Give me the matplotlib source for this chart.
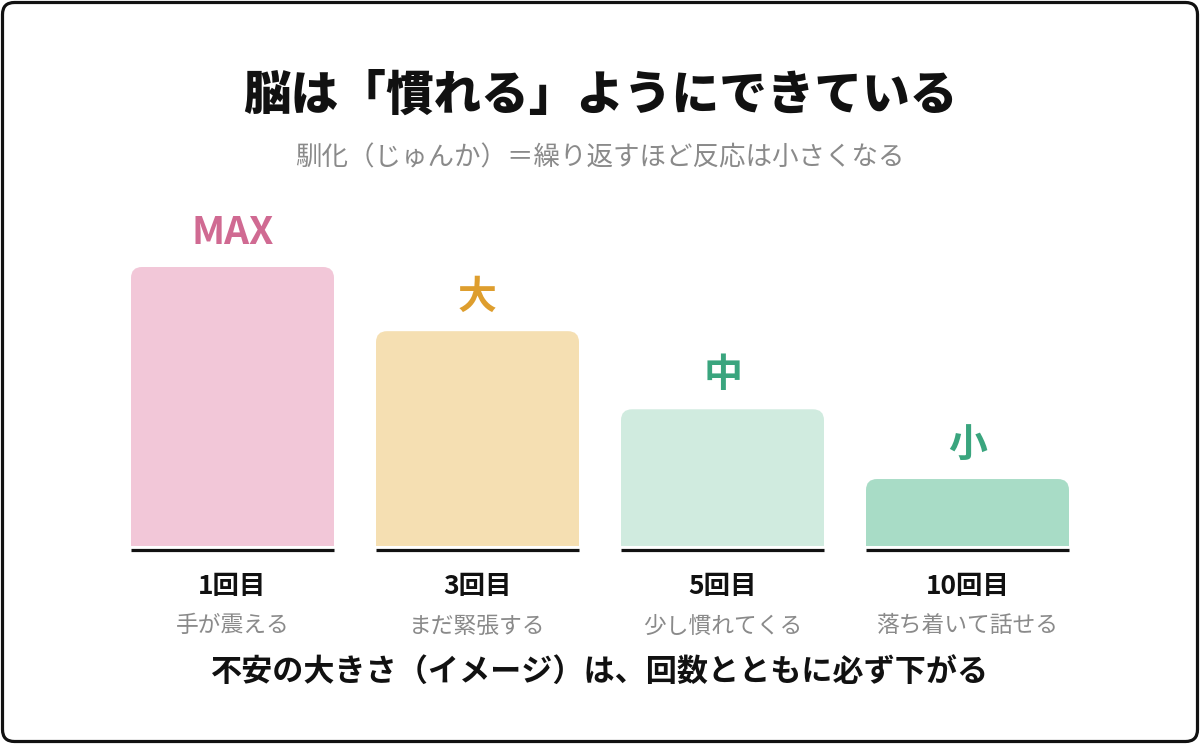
import matplotlib
matplotlib.use("Agg")
import matplotlib.pyplot as plt
from matplotlib.path import Path
from matplotlib.patches import PathPatch, FancyBboxPatch
from matplotlib.transforms import offset_copy

plt.rcParams['font.family'] = ['Noto Sans CJK JP', 'DejaVu Sans']

# ---- data ----
categories = ["1回目", "3回目", "5回目", "10回目"]
descriptions = ["手が震える", "まだ緊張する", "少し慣れてくる", "落ち着いて話せる"]
values = [100, 77, 49, 24]
level_labels = ["MAX", "大", "中", "小"]
bar_colors = ["#F2C7D8", "#F5DFB2", "#D0EBDF", "#A8DCC6"]
label_colors = ["#D06A92", "#DE9E2E", "#3AA57E", "#3AA57E"]
title = "脳は「慣れる」ようにできている"
subtitle = "馴化（じゅんか）＝繰り返すほど反応は小さくなる"
footer = "不安の大きさ（イメージ）は、回数とともに必ず下がる"

W, H = 1200, 744
fig = plt.figure(figsize=(W / 100, H / 100), dpi=100)

# background / frame axes in pixel coordinates
bg = fig.add_axes([0, 0, 1, 1])
bg.set_xlim(0, W)
bg.set_ylim(H, 0)
bg.axis('off')
frame = FancyBboxPatch((2.5, 2.5), W - 5, H - 5,
                       boxstyle="round,pad=0,rounding_size=12",
                       facecolor='white', edgecolor='#111111', linewidth=2.3)
bg.add_patch(frame)

bg.text(W / 2, 95, title, ha='center', va='center', fontsize=34.3,
        fontweight='black', color='#111111')
bg.text(W / 2, 158, subtitle, ha='center', va='center', fontsize=19.1,
        color='#8a8a8a')
bg.text(W / 2, 672, footer, ha='center', va='center', fontsize=22.4,
        fontweight='bold', color='#111111')

# bar axes
ax_left, ax_w = 110, 980
ax_bottom, ax_h = 546, 279
ax = fig.add_axes([ax_left / W, (H - ax_bottom) / H, ax_w / W, ax_h / H])
ax.set_xlim(-0.5, len(categories) - 0.5)
ax.set_ylim(0, 100)
ax.axis('off')
ax.patch.set_alpha(0)

bar_w = 203 / 245
x = list(range(len(categories)))
bars = ax.bar(x, values, width=bar_w, color=bar_colors)

px_per_x = ax_w / (len(categories))
px_per_y = ax_h / 100
r = 11
rx, ry = r / px_per_x, r / px_per_y

base_tr = offset_copy(ax.transData, fig=fig, x=0, y=-4, units='dots')

for rect, col in zip(bars, bar_colors):
    rect.set_visible(False)
    x0 = rect.get_x()
    x1 = x0 + rect.get_width()
    h = rect.get_height()
    verts = [(x0, 0), (x0, h - ry), (x0, h), (x0 + rx, h),
             (x1 - rx, h), (x1, h), (x1, h - ry), (x1, 0), (x0, 0)]
    codes = [Path.MOVETO, Path.LINETO, Path.CURVE3, Path.CURVE3,
             Path.LINETO, Path.CURVE3, Path.CURVE3, Path.LINETO, Path.CLOSEPOLY]
    ax.add_patch(PathPatch(Path(verts, codes), facecolor=col, edgecolor='none'))
    ax.plot([x0, x1], [0, 0], color='#111111', linewidth=2.3,
            solid_capstyle='butt', transform=base_tr, clip_on=False)

for xi, v, lab, lc, cat, desc in zip(x, values, level_labels, label_colors,
                                     categories, descriptions):
    ax.annotate(lab, (xi, v), xytext=(0, 34 * 0.72), textcoords='offset points',
                ha='center', va='center', fontsize=28, fontweight='bold',
                color=lc, annotation_clip=False)
    ax.annotate(cat, (xi, 0), xytext=(0, -40 * 0.72), textcoords='offset points',
                ha='center', va='center', fontsize=19, fontweight='bold',
                color='#111111', annotation_clip=False)
    ax.annotate(desc, (xi, 0), xytext=(0, -80 * 0.72), textcoords='offset points',
                ha='center', va='center', fontsize=16.4, color='#8a8a8a',
                annotation_clip=False)

fig.savefig("out.png", dpi=100, facecolor='white')
